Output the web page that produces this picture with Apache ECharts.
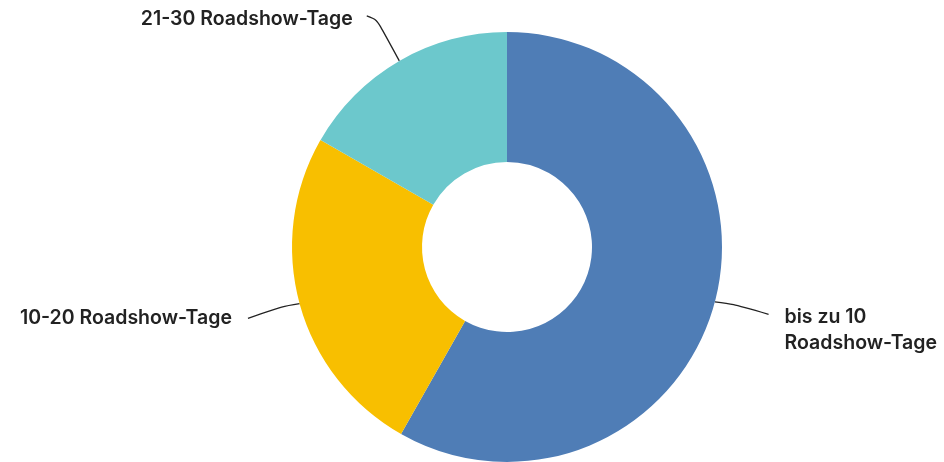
<!DOCTYPE html>
<html>
<head>
<meta charset="utf-8">
<script src="https://cdn.jsdelivr.net/npm/echarts@6/dist/echarts.min.js"></script>
<style>html,body{margin:0;padding:0;background:#fff}#c{width:944px;height:462px}</style>
</head>
<body>
<div id="c"></div>
<script>
var categories = ['bis zu 10 Roadshow-Tage', '10-20 Roadshow-Tage', '21-30 Roadshow-Tage'];
var labelTexts = ['bis zu 10\nRoadshow-Tage', '10-20 Roadshow-Tage', '21-30 Roadshow-Tage'];
var values = [58.2, 25.1, 16.7];
var colors = ['#4f7db6', '#f8bf00', '#6cc8cc'];
var lineLengths = [[10, 44], [10, 42], [45, 10]];
var labelGap = [16, 16, 14];
var labelShift = [26, 12, -3];
var lineEndShift = [10, 12, -6];

var chart = echarts.init(document.getElementById('c'), null, {renderer: 'canvas'});
chart.setOption({
  animation: false,
  series: [{
    type: 'pie',
    center: [507, 247],
    radius: [85, 215],
    startAngle: 90,
    clockwise: true,
    avoidLabelOverlap: false,
    label: {
      show: true,
      position: 'outside',
      color: '#222',
      fontFamily: 'Inter',
      fontWeight: 600,
      fontSize: 19.5,
      lineHeight: 26
    },
    labelLine: {
      show: true,
      smooth: 0.3,
      lineStyle: {color: '#222', width: 1.3}
    },
    labelLayout: function (params) {
      var i = params.dataIndex;
      var pts = params.labelLinePoints;
      if (!pts) return {dy: labelShift[i]};
      var p0 = pts[0], p1 = pts[1], p2 = pts[2];
      var e = lineEndShift[i];
      var np2 = [p2[0], p2[1] + e];
      var np1 = i === 2 ? [p1[0], p1[1] + e * 0.4]
        : [p0[0] + (np2[0] - p0[0]) * 0.35, p0[1] + (np2[1] - p0[1]) * 0.2];
      return {dy: labelShift[i], labelLinePoints: [p0, np1, np2]};
    },
    data: categories.map(function (c, i) {
      return {
        name: c,
        value: values[i],
        itemStyle: {color: colors[i]},
        label: {formatter: labelTexts[i], align: i === 0 ? 'left' : 'right', distanceToLabelLine: labelGap[i]},
        labelLine: {length: lineLengths[i][0], length2: lineLengths[i][1]}
      };
    })
  }]
});
</script>
</body>
</html>
